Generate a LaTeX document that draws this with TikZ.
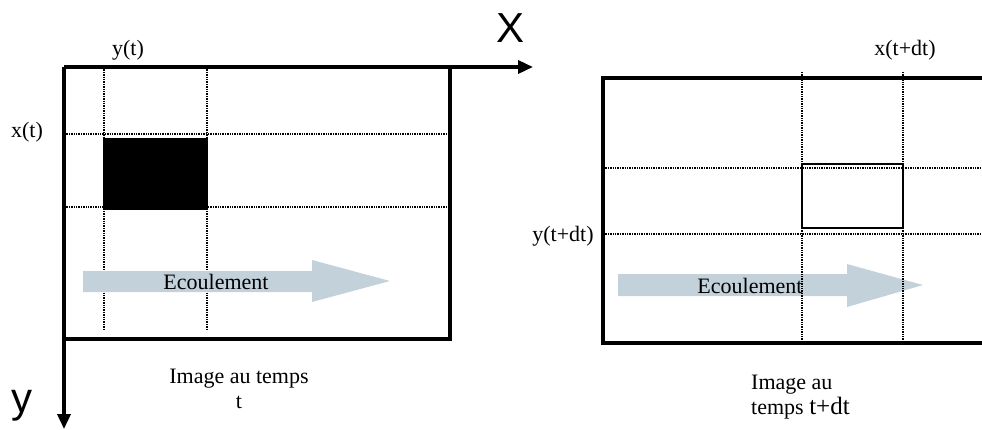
\documentclass[tikz,border=0pt]{standalone}
\usepackage{fontspec}
\setmainfont{Liberation Serif}
\newfontfamily\axisfont{Liberation Sans}
\usepackage{xcolor}
\usepackage{tikz}
\usetikzlibrary{arrows.meta,positioning}

\definecolor{flowblue}{RGB}{195,209,218}

\begin{document}
\begin{tikzpicture}[
        x=1pt, y=-1pt,
        frame/.style={line width=3.5pt},
        axis/.style={line width=3.5pt, -{Triangle[length=15pt,width=13pt]}},
        grid/.style={line width=2pt, dash pattern=on 1.4pt off 1pt},
        flow/.style={fill=flowblue},
        lbl/.style={font=\fontsize{22}{25}\selectfont, inner sep=0pt},
        big/.style={font=\axisfont\fontsize{42}{42}\selectfont, inner sep=0pt}
    ]
        \useasboundingbox (0,0) rectangle (982,429);

        % image au temps t
        \coordinate (O)    at (64,67);
        \coordinate (xend) at (533,67);
        \coordinate (yend) at (64,429);
        \draw[frame] (O) -- (450,67) -- (450,339) -- (64,339);
        \draw[grid] (104,67) -- (104,330)  (207,67) -- (207,330);
        \draw[grid] (64,134) -- (450,134)  (64,207) -- (450,207);
        \fill (103,138) rectangle (208,210);
        \fill[flow] (83,271) -- (312,271) -- (312,260) -- (390,281)
                    -- (312,302) -- (312,292) -- (83,292) -- cycle;
        \node[lbl] (flowA) at (216,282) {Ecoulement};
        \draw[axis] (O) -- (xend);
        \draw[axis] (O) -- (yend);

        \node[big] (X)  at (510,28)  {X};
        \node[big] (Y)  at (22,406)  {y};
        \node[lbl] (yt) at (128,50)  {y(t)};
        \node[lbl] (xt) at (27,132)  {x(t)};
        \node[lbl, align=center] (capA) at (239,389) {Image au temps\\t};

        % image au temps t+dt
        \fill[flow] (618,274) -- (847,274) -- (847,264) -- (923,285)
                    -- (847,307) -- (847,296) -- (618,296) -- cycle;
        \node[lbl] (flowB) at (750,286) {Ecoulement};
        \draw[grid] (802,72) -- (802,340)  (903,72) -- (903,340);
        \draw[grid] (603,168) -- (982,168)  (603,234) -- (982,234);
        \draw[line width=1.5pt] (802,164) rectangle (903,228);
        \draw[frame] (985,78) -- (603,78) -- (603,343) -- (985,343);

        \node[lbl] (xtdt) at (905,50)  {x(t+dt)};
        \node[lbl] (ytdt) at (563,236) {y(t+dt)};
        \node[lbl, align=left, anchor=west] (capB) at (751,397)
            {Image au\\temps {\fontsize{25}{25}\selectfont t+dt}};
    \end{tikzpicture}
\end{document}
